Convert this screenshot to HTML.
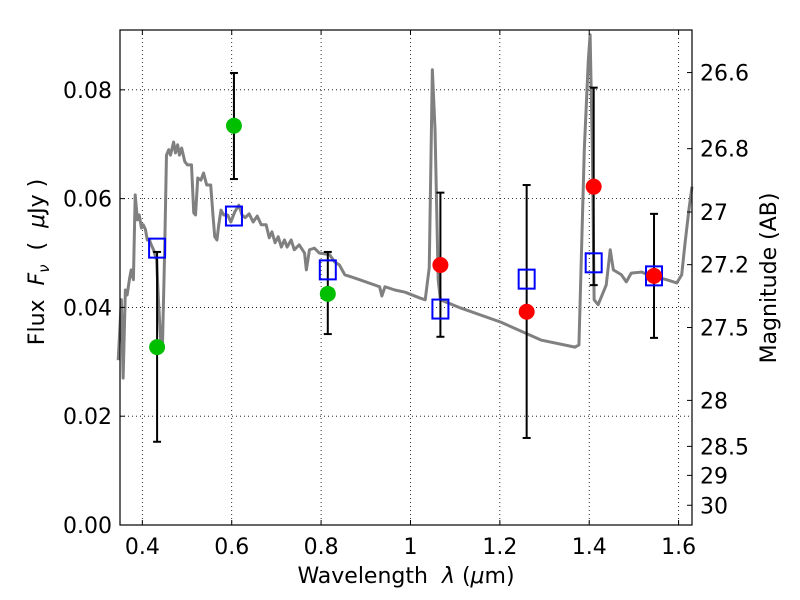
<!DOCTYPE html>
<html><head><meta charset="utf-8"><style>
body{margin:0;background:#fff}
svg{display:block;font-family:"DejaVu Sans","Liberation Sans",sans-serif}
</style></head><body>
<svg id="chart" width="800" height="600"></svg>
<script>
const specWave=[0.346,0.353,0.357,0.362,0.366,0.371,0.375,0.380,0.384,0.389,0.393,0.398,0.402,0.407,0.411,0.416,0.420,0.425,0.432,0.436,0.441,0.445,0.450,0.454,0.459,0.463,0.470,0.474,0.479,0.483,0.488,0.495,0.501,0.510,0.515,0.519,0.524,0.531,0.537,0.544,0.553,0.558,0.562,0.567,0.571,0.576,0.582,0.591,0.598,0.607,0.616,0.623,0.630,0.639,0.648,0.657,0.666,0.677,0.684,0.690,0.697,0.704,0.711,0.718,0.724,0.733,0.740,0.751,0.763,0.767,0.774,0.785,0.796,0.819,0.830,0.841,0.853,0.868,0.886,0.931,0.936,0.943,0.965,0.988,1.022,1.033,1.042,1.049,1.055,1.062,1.067,1.112,1.202,1.292,1.368,1.377,1.389,1.398,1.402,1.407,1.411,1.420,1.438,1.447,1.454,1.472,1.483,1.494,1.517,1.539,1.573,1.596,1.607,1.614,1.623,1.630];
const specFlux=[0.0303,0.0414,0.0270,0.0432,0.0423,0.0451,0.0469,0.0451,0.0607,0.0561,0.0570,0.0546,0.0552,0.0543,0.0524,0.0524,0.0515,0.0506,0.0487,0.0414,0.0340,0.0329,0.0506,0.0680,0.0690,0.0680,0.0704,0.0684,0.0699,0.0680,0.0693,0.0668,0.0662,0.0662,0.0574,0.0570,0.0638,0.0634,0.0647,0.0625,0.0625,0.0570,0.0530,0.0524,0.0552,0.0579,0.0570,0.0570,0.0557,0.0576,0.0588,0.0570,0.0565,0.0572,0.0557,0.0568,0.0552,0.0552,0.0528,0.0539,0.0519,0.0530,0.0511,0.0524,0.0511,0.0524,0.0506,0.0515,0.0500,0.0469,0.0506,0.0509,0.0500,0.0497,0.0484,0.0478,0.0460,0.0456,0.0451,0.0438,0.0421,0.0438,0.0432,0.0428,0.0417,0.0414,0.0473,0.0837,0.0726,0.0451,0.0414,0.0399,0.0373,0.0340,0.0327,0.0331,0.0690,0.0855,0.0901,0.0690,0.0414,0.0405,0.0441,0.0506,0.0469,0.0460,0.0447,0.0463,0.0465,0.0458,0.0451,0.0445,0.0460,0.0515,0.0579,0.0622];
const greenWave=[0.433,0.605,0.815];
const greenFlux=[0.0327,0.0734,0.0425];
const greenLo=[0.0153,0.0636,0.0351];
const greenHi=[0.0502,0.0831,0.0502];
const redWave=[1.067,1.260,1.410,1.545];
const redFlux=[0.0478,0.0392,0.0622,0.0458];
const redLo=[0.0346,0.0160,0.0441,0.0344];
const redHi=[0.0611,0.0625,0.0804,0.0572];
const modelWave=[0.433,0.605,0.815,1.067,1.260,1.410,1.545];
const modelFlux=[0.0509,0.0568,0.0469,0.0397,0.0452,0.0482,0.0458];
const xTicks=[0.4,0.6,0.8,1.0,1.2,1.4,1.6];
const xTickLabels=["0.4","0.6","0.8","1","1.2","1.4","1.6"];
const yTicks=[0,0.02,0.04,0.06,0.08];
const yTickLabels=["0.00","0.02","0.04","0.06","0.08"];
const magTicks=[26.6,26.8,27,27.2,27.5,28,28.5,29,30];
const magTickLabels=["26.6","26.8","27","27.2","27.5","28","28.5","29","30"];

const L=120,R=692,T=30,B=525,X0=0.35,X1=1.63,Y0=0,Y1=0.091;
const sx=v=>L+(v-X0)/(X1-X0)*(R-L);
const sy=v=>B-(v-Y0)/(Y1-Y0)*(B-T);
const magToFlux=m=>Math.pow(10,(23.9-m)/2.5);
const svg=document.getElementById('chart');
const NS='http://www.w3.org/2000/svg';
function mk(tag,attrs,parent){const e=document.createElementNS(NS,tag);for(const k in attrs)e.setAttribute(k,attrs[k]);(parent||svg).appendChild(e);return e;}

const grid=mk('g',{});


xTicks.forEach(v=>mk('line',{x1:sx(v),x2:sx(v),y1:T,y2:B,stroke:'#000','stroke-width':0.8,'stroke-dasharray':'1,3'},grid));
yTicks.forEach(v=>mk('line',{x1:L,x2:R,y1:sy(v),y2:sy(v),stroke:'#000','stroke-width':0.8,'stroke-dasharray':'1,3'},grid));

const sp=mk('polyline',{points:specWave.map((w,i)=>sx(w)+','+sy(specFlux[i])).join(' '),fill:'none',stroke:'#808080','stroke-width':3,'stroke-linejoin':'round'});



function errs(ws,lo,hi,name){
  const g=mk('g',{});
  
  
  ws.forEach((w,i)=>{const x=sx(w);
    mk('line',{x1:x,x2:x,y1:sy(lo[i]),y2:sy(hi[i]),stroke:'#000','stroke-width':2},g);
    mk('line',{x1:x-4,x2:x+4,y1:sy(lo[i]),y2:sy(lo[i]),stroke:'#000','stroke-width':2},g);
    mk('line',{x1:x-4,x2:x+4,y1:sy(hi[i]),y2:sy(hi[i]),stroke:'#000','stroke-width':2},g);
  });
}
errs(greenWave,greenLo,greenHi,'green-error-bars');
errs(redWave,redLo,redHi,'red-error-bars');

modelWave.forEach((w,i)=>{
  const r=mk('rect',{x:sx(w)-8,y:sy(modelFlux[i])-9.5,width:16,height:19,fill:'none',stroke:'#0000ff','stroke-width':2});
  
  
});
greenWave.forEach((w,i)=>{
  const c=mk('circle',{cx:sx(w),cy:sy(greenFlux[i]),r:8,fill:'#00bf00'});
  
  
});
redWave.forEach((w,i)=>{
  const c=mk('circle',{cx:sx(w),cy:sy(redFlux[i]),r:8,fill:'#ff0000'});
  
  
});

const fr=mk('rect',{x:L,y:T,width:R-L,height:B-T,fill:'none',stroke:'#000','stroke-width':1.2});



xTicks.forEach((v,i)=>{
  mk('line',{x1:sx(v),x2:sx(v),y1:B,y2:B-5,stroke:'#000'});
  mk('line',{x1:sx(v),x2:sx(v),y1:T,y2:T+5,stroke:'#000'});
  const t=mk('text',{x:sx(v),y:B+29,'text-anchor':'middle','font-size':22});
  t.textContent=xTickLabels[i];
  
  
});
yTicks.forEach((v,i)=>{
  mk('line',{x1:L,x2:L+5,y1:sy(v),y2:sy(v),stroke:'#000'});
  const t=mk('text',{x:L-8,y:sy(v)+8,'text-anchor':'end','font-size':22});
  t.textContent=yTickLabels[i];
  
  
});
magTicks.forEach((m,i)=>{
  const y=sy(magToFlux(m));
  mk('line',{x1:R,x2:R-5,y1:y,y2:y,stroke:'#000'});
  const t=mk('text',{x:R+8,y:y+8,'text-anchor':'start','font-size':22});
  t.textContent=magTickLabels[i];
  
  
});
</script>
<div style="position:absolute;left:0;top:0;width:800px;height:600px;pointer-events:none">
<svg width="800" height="600" style="position:absolute;left:0;top:0;font-family:'DejaVu Sans','Liberation Sans',sans-serif">
<text x="406" y="583" text-anchor="middle" font-size="22" xml:space="preserve">Wavelength  <tspan font-style="italic">λ</tspan> (<tspan font-style="italic">μ</tspan>m)</text>
<text transform="translate(44,262) rotate(-90)" text-anchor="middle" font-size="22" xml:space="preserve">Flux  <tspan font-style="italic">F</tspan><tspan font-style="italic" font-size="15" dy="5">ν</tspan><tspan dy="-5">  (  </tspan><tspan font-style="italic">μ</tspan>Jy )</text>
<text transform="translate(776,278) rotate(-90)" text-anchor="middle" font-size="22">Magnitude (AB)</text>
</svg>
</div>
</body></html>
